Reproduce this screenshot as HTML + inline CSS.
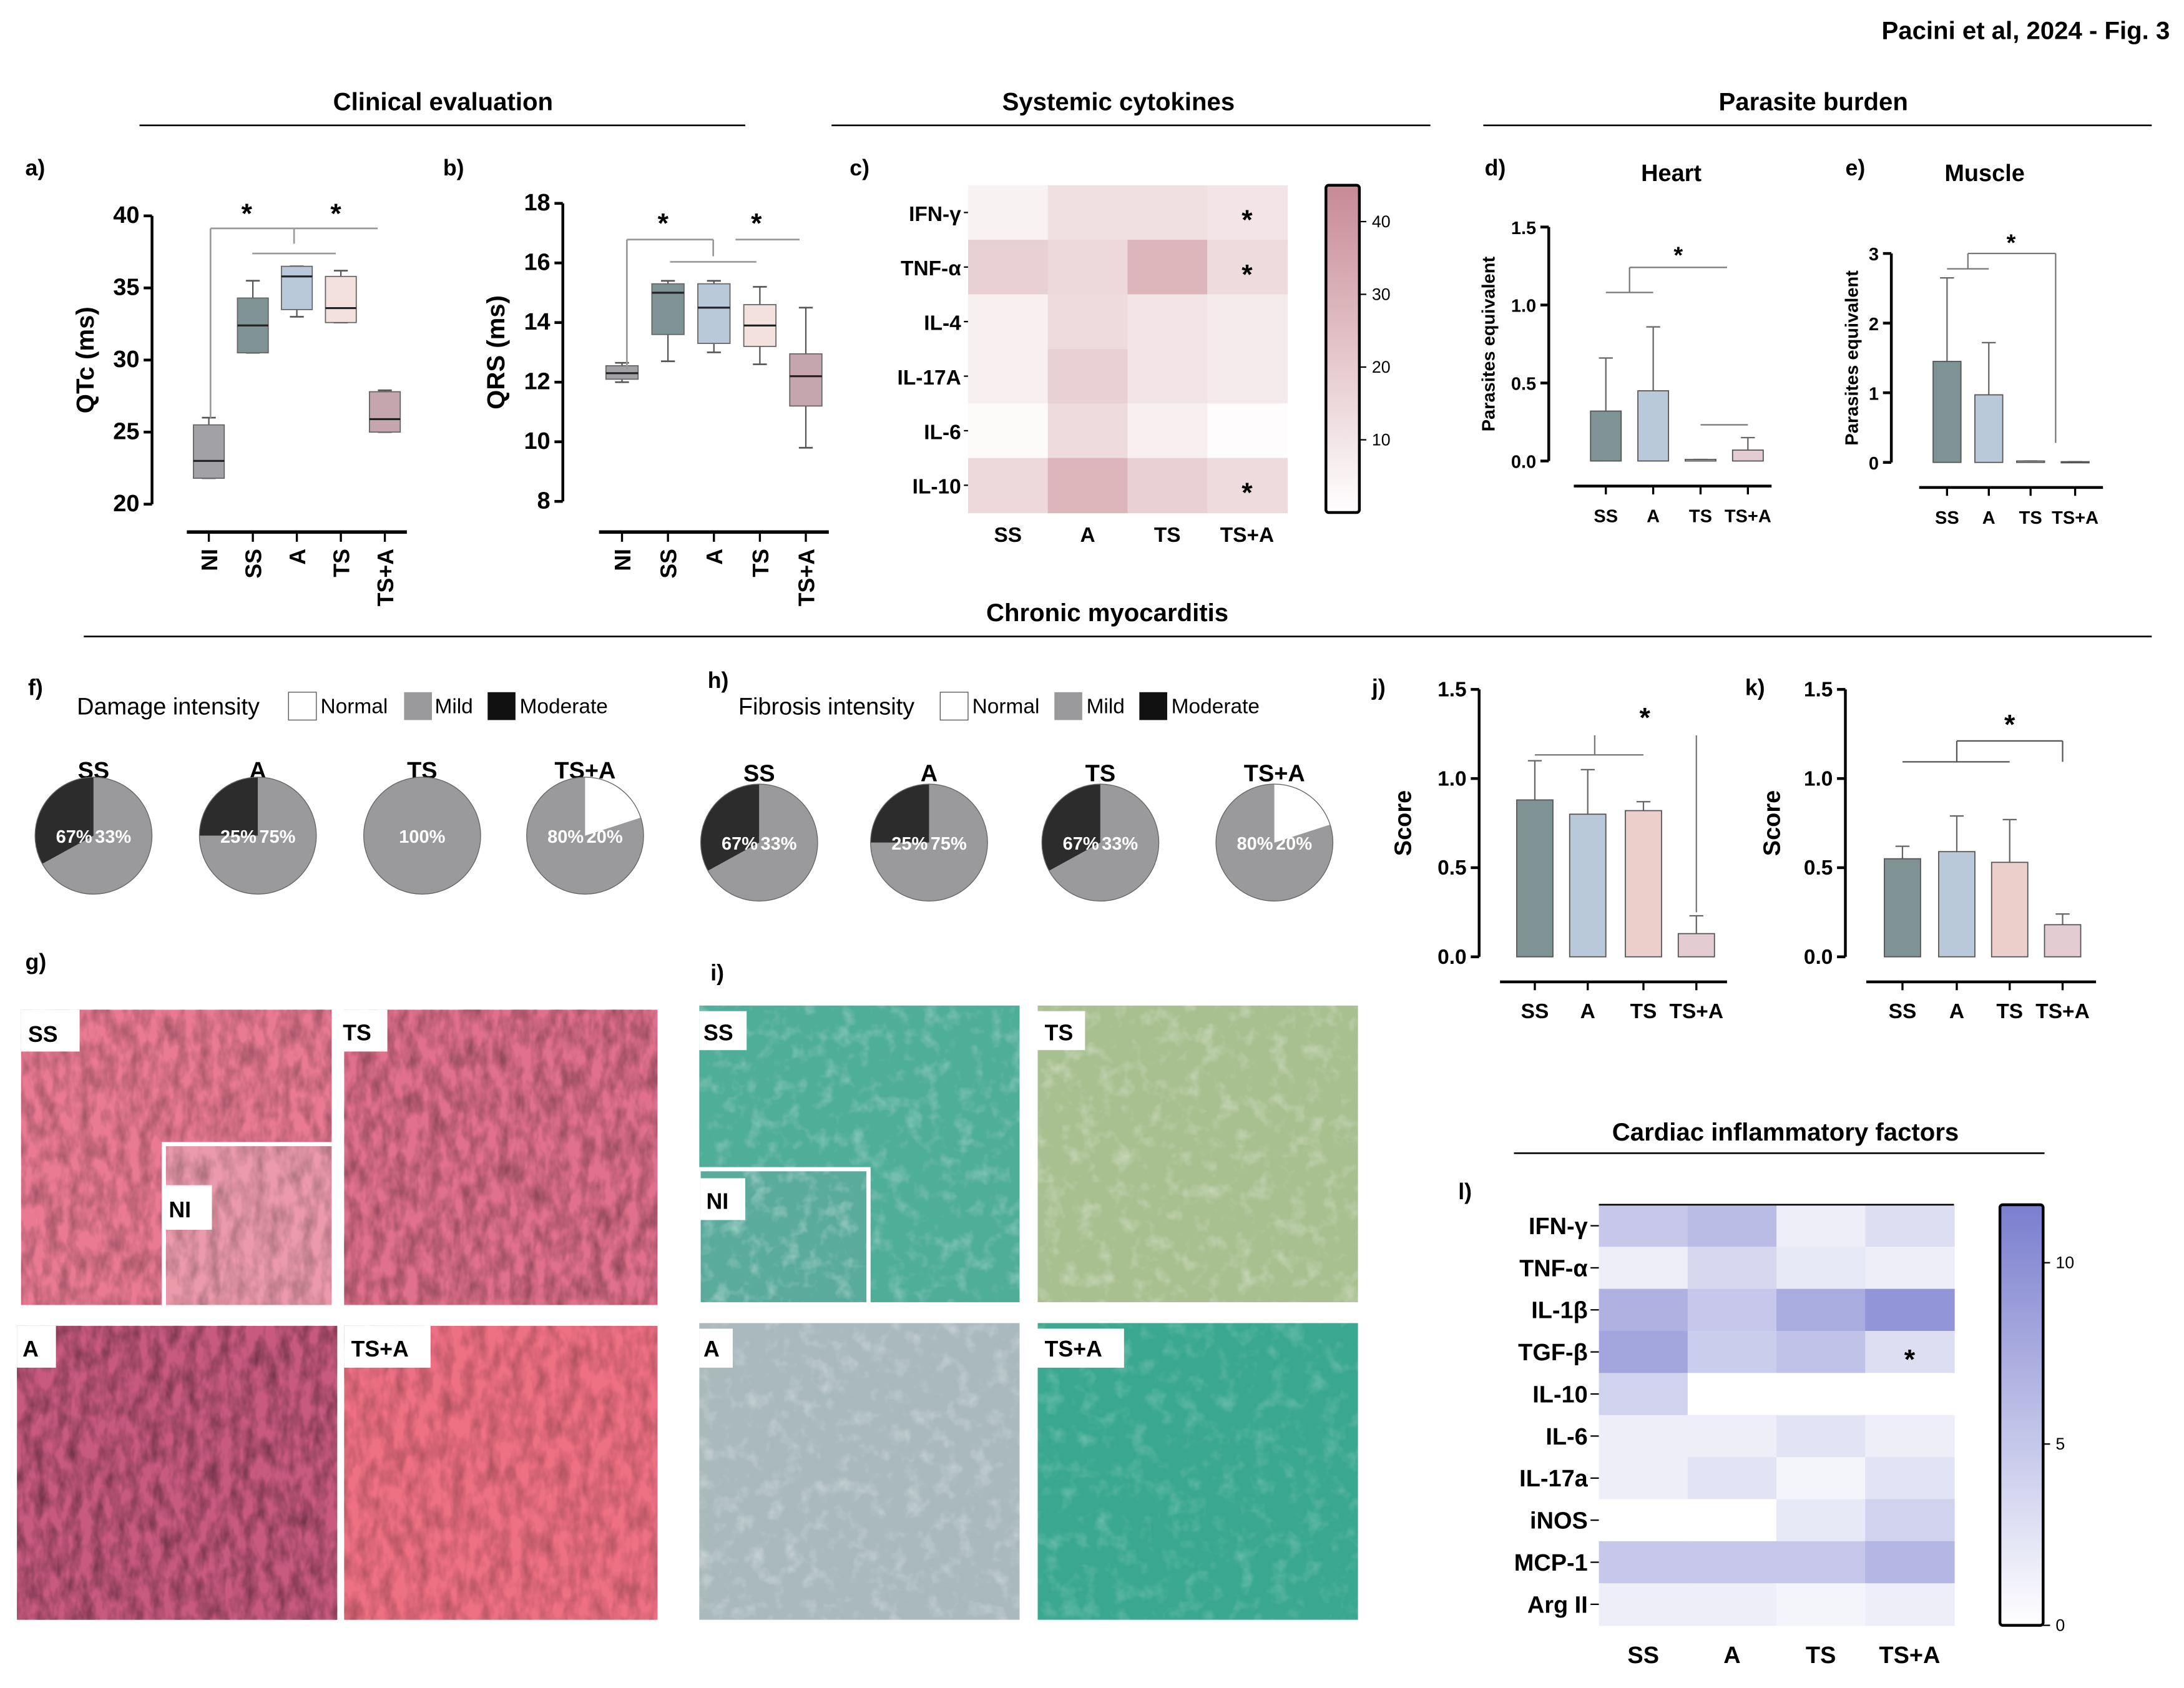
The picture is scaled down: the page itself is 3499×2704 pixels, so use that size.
<!DOCTYPE html>
<html><head><meta charset="utf-8">
<style>
html,body{margin:0;padding:0;background:#fff;}
svg{display:block;}
text{font-family:"Liberation Sans",Arial,sans-serif;}
</style></head>
<body>
<svg id="fig" width="3499" height="2704" viewBox="0 0 1568 1212" xmlns="http://www.w3.org/2000/svg">
<defs>
<filter id="tex" x="0" y="0" width="100%" height="100%">
<feTurbulence type="fractalNoise" baseFrequency="0.12 0.06" numOctaves="3" seed="4"/>
<feColorMatrix type="matrix" values="0 0 0 0 0  0 0 0 0 0  0 0 0 0 0  0 0 0 -1.8 1.2"/>
</filter>
<filter id="tex2" x="0" y="0" width="100%" height="100%">
<feTurbulence type="fractalNoise" baseFrequency="0.08" numOctaves="3" seed="9"/>
<feColorMatrix type="matrix" values="0 0 0 0 1  0 0 0 0 1  0 0 0 0 1  0 0 0 -2 1.0"/>
</filter>
</defs>
<rect width="1568" height="1212" fill="#fff"/>
<text x="1558" y="28" text-anchor="end" font-size="18" font-weight="bold">Pacini et al, 2024 - Fig. 3</text>

<g font-size="18" font-weight="bold" text-anchor="middle">
<text x="318" y="79">Clinical evaluation</text>
<line x1="100" y1="90" x2="535" y2="90" stroke="#000" stroke-width="1.2"/>
<text x="803" y="79">Systemic cytokines</text>
<line x1="597" y1="90" x2="1027" y2="90" stroke="#000" stroke-width="1.2"/>
<text x="1302" y="79">Parasite burden</text>
<line x1="1065" y1="90" x2="1545" y2="90" stroke="#000" stroke-width="1.2"/>
<text x="795" y="446">Chronic myocarditis</text>
<line x1="60" y1="457" x2="1545" y2="457" stroke="#000" stroke-width="1.2"/>
<text x="1282" y="819">Cardiac inflammatory factors</text>
<line x1="1087" y1="828" x2="1468" y2="828" stroke="#000" stroke-width="1.2"/>
</g>

<g font-size="16" font-weight="bold">
<text x="18" y="126">a)</text><text x="318" y="126">b)</text><text x="610" y="126">c)</text>
<text x="1066" y="126">d)</text><text x="1325" y="126">e)</text>
<text x="20" y="499">f)</text><text x="508" y="494">h)</text>
<text x="985" y="499">j)</text><text x="1253" y="499">k)</text>
<text x="18" y="696">g)</text><text x="510" y="704">i)</text>
<text x="1047" y="861">l)</text>
</g>

<g>
<rect x="15" y="725" width="223" height="212" fill="#e97a92"/><rect x="15" y="725" width="223" height="212" filter="url(#tex)" opacity="0.3"/>
<rect x="247" y="725" width="225" height="212" fill="#e0708c"/><rect x="247" y="725" width="225" height="212" filter="url(#tex)" opacity="0.35"/>
<rect x="116" y="820" width="124" height="119" fill="#fff"/>
<rect x="119" y="823" width="119" height="114" fill="#eb9aac"/><rect x="119" y="823" width="119" height="114" filter="url(#tex)" opacity="0.25"/>
<rect x="12" y="952" width="230" height="211" fill="#c85a80"/><rect x="12" y="952" width="230" height="211" filter="url(#tex)" opacity="0.4"/>
<rect x="247" y="952" width="225" height="211" fill="#ee7083"/><rect x="247" y="952" width="225" height="211" filter="url(#tex)" opacity="0.25"/>
<rect x="15" y="725" width="42" height="30" fill="#fff"/><text x="20" y="748" font-size="16" font-weight="bold">SS</text>
<rect x="240" y="725" width="38" height="30" fill="#fff"/><text x="246" y="747" font-size="16" font-weight="bold">TS</text>
<rect x="116" y="851" width="36" height="32" fill="#fff"/><text x="121" y="874" font-size="16" font-weight="bold">NI</text>
<rect x="12" y="952" width="28" height="30" fill="#fff"/><text x="16" y="974" font-size="16" font-weight="bold">A</text>
<rect x="247" y="952" width="62" height="30" fill="#fff"/><text x="252" y="974" font-size="16" font-weight="bold">TS+A</text>
</g>
<g>
<rect x="502" y="722" width="230" height="213" fill="#4fae98"/><rect x="502" y="722" width="230" height="213" filter="url(#tex2)" opacity="0.35"/>
<rect x="745" y="722" width="230" height="213" fill="#a8c090"/><rect x="745" y="722" width="230" height="213" filter="url(#tex2)" opacity="0.4"/>
<rect x="500" y="838" width="125" height="99" fill="#fff"/>
<rect x="503" y="841" width="119" height="94" fill="#5aab9c"/><rect x="503" y="841" width="119" height="94" filter="url(#tex2)" opacity="0.45"/>
<rect x="502" y="950" width="230" height="213" fill="#a9b9bc"/><rect x="502" y="950" width="230" height="213" filter="url(#tex2)" opacity="0.4"/>
<rect x="745" y="950" width="230" height="213" fill="#3aa890"/><rect x="745" y="950" width="230" height="213" filter="url(#tex2)" opacity="0.25"/>
<rect x="502" y="726" width="34" height="28" fill="#fff"/><text x="505" y="747" font-size="16" font-weight="bold">SS</text>
<rect x="745" y="726" width="34" height="28" fill="#fff"/><text x="750" y="747" font-size="16" font-weight="bold">TS</text>
<rect x="503" y="846" width="32" height="30" fill="#fff"/><text x="507" y="868" font-size="16" font-weight="bold">NI</text>
<rect x="502" y="954" width="24" height="28" fill="#fff"/><text x="505" y="974" font-size="16" font-weight="bold">A</text>
<rect x="745" y="954" width="62" height="28" fill="#fff"/><text x="750" y="974" font-size="16" font-weight="bold">TS+A</text>
</g>

<g font-size="15">
<text x="55" y="513" font-size="17">Damage intensity</text>
<rect x="207" y="497" width="20" height="20" fill="#fff" stroke="#555" stroke-width="0.6"/><text x="230" y="512">Normal</text>
<rect x="290" y="497" width="20" height="20" fill="#9a9a9c"/><text x="312" y="512">Mild</text>
<rect x="350" y="497" width="20" height="20" fill="#111"/><text x="373" y="512">Moderate</text>
</g>
<g font-size="15">
<text x="530" y="513" font-size="17">Fibrosis intensity</text>
<rect x="675" y="497" width="20" height="20" fill="#fff" stroke="#555" stroke-width="0.6"/><text x="698" y="512">Normal</text>
<rect x="757" y="497" width="20" height="20" fill="#9a9a9c"/><text x="780" y="512">Mild</text>
<rect x="818" y="497" width="20" height="20" fill="#111"/><text x="841" y="512">Moderate</text>
</g>
</svg>

<script>
const NS='http://www.w3.org/2000/svg';
const svg=document.getElementById('fig');
function mk(tag,a,parent){const e=document.createElementNS(NS,tag);for(const k in a)e.setAttribute(k,a[k]);(parent||svg).appendChild(e);return e;}
function txt(x,y,s,a,parent){const e=mk('text',Object.assign({x:x,y:y},a||{}),parent);e.textContent=s;return e;}
function lin(d0,d1,r0,r1){return v=>r0+(v-d0)*(r1-r0)/(d1-d0);}

const boxCats=['NI','SS','A','TS','TS+A'];
const boxColors=['#a2a1a6','#7f9294','#b9c9da','#f2e1dc','#c6a6ae'];
const qtcMin=[21.8,30.5,33.0,32.6,25.0];
const qtcQ1=[21.8,30.5,33.5,32.6,25.0];
const qtcMed=[23.0,32.4,35.8,33.6,25.9];
const qtcQ3=[25.5,34.3,36.5,35.8,27.8];
const qtcMax=[26.0,35.5,36.5,36.2,27.9];
const qtcTicks=[20,25,30,35,40];
const qrsMin=[12.0,12.7,13.0,12.6,9.8];
const qrsQ1=[12.1,13.6,13.3,13.2,11.2];
const qrsMed=[12.3,15.0,14.5,13.9,12.2];
const qrsQ3=[12.55,15.3,15.3,14.6,12.95];
const qrsMax=[12.65,15.4,15.4,15.2,14.5];
const qrsTicks=[8,10,12,14,16,18];

const cytoRows=['IFN-\u03b3','TNF-\u03b1','IL-4','IL-17A','IL-6','IL-10'];
const groupCats=['SS','A','TS','TS+A'];
const cytoVals=[[5,12,12,10],[18,15,28,14],[6,14,10,8],[6,18,10,8],[2,14,6,1],[15,28,18,14]];
const cytoStars=[[0,3],[1,3],[5,3]];
const cytoTicks=[10,20,30,40];

const heartMean=[0.32,0.45,0.01,0.07];
const heartErr=[0.66,0.86,0.01,0.15];
const heartTicks=[0,0.5,1.0,1.5];
const muscleMean=[1.45,0.97,0.02,0.01];
const muscleErr=[2.65,1.72,0.02,0.01];
const muscleTicks=[0,1,2,3];

const damagePies=[[0,67,33],[0,75,25],[0,100,0],[20,80,0]];
const fibrosisPies=[[0,67,33],[0,75,25],[0,67,33],[20,80,0]];
const damageLabels=[['67%','33%'],['25%','75%'],['100%'],['80%','20%']];
const fibrosisLabels=[['67%','33%'],['25%','75%'],['67%','33%'],['80%','20%']];

const scoreJMean=[0.88,0.80,0.82,0.13];
const scoreJErr=[1.10,1.05,0.87,0.23];
const scoreKMean=[0.55,0.59,0.53,0.18];
const scoreKErr=[0.62,0.79,0.77,0.24];
const scoreTicks=[0,0.5,1.0,1.5];

const cardRows=['IFN-\u03b3','TNF-\u03b1','IL-1\u03b2','TGF-\u03b2','IL-10','IL-6','IL-17a','iNOS','MCP-1','Arg II'];
const cardVals=[[5,6,1.5,3],[1.5,3.5,2,1.5],[7,5,7.5,9.5],[8,4.5,5.5,3],[4,0,0,0],[1.5,1.5,2.5,1.5],[1.5,2.5,1,2.5],[0,0,2,4],[5,5,5,6.5],[1.5,1.5,1,1.5]];
const cardTicks=[0,5,10];
const barColors=['#7f9294','#b9c9da','#eccfca','#e3cdd3'];

function yAxis(g,x,y0,y1,ticks,sc,fmt,fs){
  mk('line',{x1:x,y1:y0,x2:x,y2:y1,stroke:'#000','stroke-width':2},g);
  ticks.forEach(t=>{const y=sc(t);
    mk('line',{x1:x-6,y1:y,x2:x,y2:y,stroke:'#000','stroke-width':2},g);
    const tl=txt(x-9,y+5,fmt(t),{'text-anchor':'end','font-size':fs||16,'font-weight':'bold'},g);
    
    
  });
}
function boxPanel(name,axisX,x0,x1,yTop,yBot,ticks,mn,q1,md,q3,mx,title,titleX){
  const g=mk('g',{});
  
  
  const sc=lin(ticks[0],ticks[ticks.length-1],yBot,yTop);
  yAxis(g,axisX,yTop,yBot,ticks,sc,t=>String(t),17);
  mk('line',{x1:x0,y1:382,x2:x1,y2:382,stroke:'#000','stroke-width':2.5},g);
  const step=(x1-x0)/boxCats.length;
  boxCats.forEach((c,i)=>{
    const cx=x0+step*(i+0.5);
    mk('line',{x1:cx,y1:382,x2:cx,y2:389,stroke:'#000','stroke-width':1.5},g);
    const lb=txt(0,0,c,{transform:`translate(${cx+6},394) rotate(-90)`,'text-anchor':'end','font-size':16,'font-weight':'bold'},g);
    
    
    const w=step*0.7;
    const wh=mk('line',{x1:cx,y1:sc(mn[i]),x2:cx,y2:sc(mx[i]),stroke:'#555','stroke-width':1},g);
    
    
    mk('line',{x1:cx-5,y1:sc(mx[i]),x2:cx+5,y2:sc(mx[i]),stroke:'#555','stroke-width':1.2},g);
    mk('line',{x1:cx-5,y1:sc(mn[i]),x2:cx+5,y2:sc(mn[i]),stroke:'#555','stroke-width':1.2},g);
    const b=mk('rect',{x:cx-w/2,y:sc(q3[i]),width:w,height:Math.max(1,sc(q1[i])-sc(q3[i])),fill:boxColors[i],stroke:'#666','stroke-width':0.8},g);
    
    
    mk('line',{x1:cx-w/2,y1:sc(md[i]),x2:cx+w/2,y2:sc(md[i]),stroke:'#222','stroke-width':1.4},g);
  });
  const yt=txt(0,0,title,{transform:`translate(${titleX},${(yTop+yBot)/2}) rotate(-90)`,'text-anchor':'middle','font-size':18,'font-weight':'bold'},g);
  
  
  return {g,sc,step};
}

const pa=boxPanel('qtc-boxplot',109,134,292,155,362,qtcTicks,qtcMin,qtcQ1,qtcMed,qtcQ3,qtcMax,'QTc (ms)',67);
[[151,164,211,164],[151,164,151,300],[211,164,271,164],[211,164,211,175],[181,182,241,182]].forEach(l=>mk('line',{x1:l[0],y1:l[1],x2:l[2],y2:l[3],stroke:'#999','stroke-width':1.2},pa.g));
txt(177,160,'*',{'font-size':20,'font-weight':'bold','text-anchor':'middle'},pa.g);
txt(241,160,'*',{'font-size':20,'font-weight':'bold','text-anchor':'middle'},pa.g);
const pb=boxPanel('qrs-boxplot',404,430,595,146,360,qrsTicks,qrsMin,qrsQ1,qrsMed,qrsQ3,qrsMax,'QRS (ms)',362);
[[450,172,512,172],[450,172,450,265],[512,172,512,184],[481,188,543,188],[528,172,574,172]].forEach(l=>mk('line',{x1:l[0],y1:l[1],x2:l[2],y2:l[3],stroke:'#999','stroke-width':1.2},pb.g));
txt(476,167,'*',{'font-size':20,'font-weight':'bold','text-anchor':'middle'},pb.g);
txt(543,167,'*',{'font-size':20,'font-weight':'bold','text-anchor':'middle'},pb.g);

function heatmap(name,x0,y0,w,h,rows,vals,maxV,c1,lblX,fs,colY,stars,cb,cbTicks){
  const g=mk('g',{});
  
  
  const cw=w/groupCats.length, rh=h/rows.length;
  const col=v=>{const t=Math.max(0,Math.min(1,v/maxV));return `rgb(${Math.round(255+(c1[0]-255)*t)},${Math.round(255+(c1[1]-255)*t)},${Math.round(255+(c1[2]-255)*t)})`;};
  rows.forEach((r,i)=>{
    const rl=txt(lblX,y0+rh*(i+0.5)+6,r,{'text-anchor':'end','font-size':fs,'font-weight':'bold'},g);
    
    
    mk('line',{x1:lblX+2,y1:y0+rh*(i+0.5),x2:x0,y2:y0+rh*(i+0.5),stroke:'#000','stroke-width':1},g);
    groupCats.forEach((c,j)=>{
      const cell=mk('rect',{x:x0+cw*j,y:y0+rh*i,width:cw+0.5,height:rh+0.5,fill:col(vals[i][j])},g);
      
      
    });
  });
  groupCats.forEach((c,j)=>{
    const cl=txt(x0+cw*(j+0.5),colY,c,{'text-anchor':'middle','font-size':fs,'font-weight':'bold'},g);
    
    
  });
  stars.forEach(s=>txt(x0+cw*(s[1]+0.5),y0+rh*(s[0]+0.5)+12,'*',{'text-anchor':'middle','font-size':20,'font-weight':'bold'},g));
  const gid='grad'+name;
  const lg=mk('linearGradient',{id:gid,x1:0,y1:1,x2:0,y2:0},svg.querySelector('defs'));
  mk('stop',{offset:0,'stop-color':'#fff'},lg);
  mk('stop',{offset:1,'stop-color':col(maxV)},lg);
  const bar=mk('rect',{x:cb[0],y:y0,width:cb[1],height:h,fill:`url(#${gid})`,stroke:'#000','stroke-width':2,rx:2},g);
  
  
  const sc=lin(0,maxV,y0+h,y0);
  cbTicks.forEach(t=>{
    mk('line',{x1:cb[0]+cb[1],y1:sc(t),x2:cb[0]+cb[1]+5,y2:sc(t),stroke:'#000','stroke-width':1},g);
    txt(cb[0]+cb[1]+9,sc(t)+4,String(t),{'font-size':12},g);
  });
  return g;
}
heatmap('systemic-cytokines-heatmap',695,133,229,235,cytoRows,cytoVals,45,[200,138,148],690,15,389,cytoStars,[952,24],cytoTicks);
const hl=heatmap('cardiac-factors-heatmap',1148,865,255,302,cardRows,cardVals,11.6,[122,126,206],1140,17,1194,[[3,3]],[1436,31],cardTicks);
mk('line',{x1:1148,y1:865,x2:1403,y2:865,stroke:'#000','stroke-width':1.2},hl);

function barPanel(name,axisX,yTop,yBot,ticks,x0,x1,xs,bw,mean,err,fmt,title,titleX,titleFs){
  const g=mk('g',{});
  
  
  const sc=lin(ticks[0],ticks[ticks.length-1],yBot,yTop);
  yAxis(g,axisX,yTop,yBot,ticks,sc,fmt,titleFs>14?15:13);
  const xAxisY=yBot+18;
  mk('line',{x1:x0,y1:xAxisY,x2:x1,y2:xAxisY,stroke:'#000','stroke-width':2},g);
  groupCats.forEach((c,i)=>{
    const cx=xs[i];
    mk('line',{x1:cx,y1:xAxisY,x2:cx,y2:xAxisY+6,stroke:'#000','stroke-width':1.5},g);
    const lb=txt(cx,xAxisY+26,c,{'text-anchor':'middle','font-size':titleFs>14?15:13,'font-weight':'bold'},g);
    
    
    mk('line',{x1:cx,y1:sc(mean[i]),x2:cx,y2:sc(err[i]),stroke:'#666','stroke-width':1},g);
    mk('line',{x1:cx-5,y1:sc(err[i]),x2:cx+5,y2:sc(err[i]),stroke:'#666','stroke-width':1},g);
    const b=mk('rect',{x:cx-bw/2,y:sc(mean[i]),width:bw,height:Math.max(0.8,sc(0)-sc(mean[i])),fill:barColors[i],stroke:'#555','stroke-width':0.8},g);
    
    
  });
  const yt=txt(0,0,title,{transform:`translate(${titleX},${(yTop+yBot)/2}) rotate(-90)`,'text-anchor':'middle','font-size':titleFs,'font-weight':'bold'},g);
  
  
  return g;
}
const f1=v=>v.toFixed(1);
const gd=barPanel('heart-parasite-bars',1112,163,331,heartTicks,1130,1272,[1153,1187,1221,1255],22,heartMean,heartErr,f1,'Parasites equivalent',1073,13);
txt(1200,130,'Heart',{'text-anchor':'middle','font-size':17,'font-weight':'bold'},gd);
[[1153,210,1187,210],[1170,210,1170,192],[1170,192,1240,192],[1221,305,1255,305]].forEach(l=>mk('line',{x1:l[0],y1:l[1],x2:l[2],y2:l[3],stroke:'#777','stroke-width':1},gd));
txt(1205,189,'*',{'text-anchor':'middle','font-size':17,'font-weight':'bold'},gd);
const ge=barPanel('muscle-parasite-bars',1358,182,332,muscleTicks,1378,1510,[1398,1428,1458,1490],20,muscleMean,muscleErr,v=>String(v),'Parasites equivalent',1334,13);
txt(1425,130,'Muscle',{'text-anchor':'middle','font-size':17,'font-weight':'bold'},ge);
[[1398,193,1428,193],[1413,193,1413,182],[1413,182,1476,182],[1476,182,1476,318]].forEach(l=>mk('line',{x1:l[0],y1:l[1],x2:l[2],y2:l[3],stroke:'#777','stroke-width':1},ge));
txt(1444,180,'*',{'text-anchor':'middle','font-size':17,'font-weight':'bold'},ge);
const gj=barPanel('damage-score-bars',1062,495,687,scoreTicks,1077,1240,[1102,1140,1180,1218],26,scoreJMean,scoreJErr,f1,'Score',1013,17);
[[1102,542,1180,542],[1145,542,1145,528],[1218,528,1218,655]].forEach(l=>mk('line',{x1:l[0],y1:l[1],x2:l[2],y2:l[3],stroke:'#777','stroke-width':1},gj));
txt(1181,522,'*',{'text-anchor':'middle','font-size':20,'font-weight':'bold'},gj);
const gk=barPanel('fibrosis-score-bars',1325,495,687,scoreTicks,1340,1505,[1366,1405,1443,1481],26,scoreKMean,scoreKErr,f1,'Score',1278,17);
[[1366,547,1443,547],[1405,547,1405,532],[1405,532,1481,532],[1481,532,1481,547]].forEach(l=>mk('line',{x1:l[0],y1:l[1],x2:l[2],y2:l[3],stroke:'#555','stroke-width':1},gk));
txt(1443,527,'*',{'text-anchor':'middle','font-size':20,'font-weight':'bold'},gk);

function pie(g,cx,cy,r,parts,labels){
  const pt=a=>[cx+r*Math.sin(a),cy-r*Math.cos(a)];
  const wedge=(a0,a1,fill,name)=>{
    if(a1-a0>=2*Math.PI-1e-6){const c=mk('circle',{cx,cy,r,fill},g);return;}
    if(a1-a0<=0)return;
    const p0=pt(a0),p1=pt(a1);
    const p=mk('path',{d:`M${cx},${cy}L${p0[0]},${p0[1]}A${r},${r} 0 ${a1-a0>Math.PI?1:0} 1 ${p1[0]},${p1[1]}Z`,fill},g);
    
    
  };
  const T=2*Math.PI;
  const aN=parts[0]/100*T, aMod=parts[2]/100*T;
  wedge(aN,T-aMod,'#9a9a9c','pie-slice-mild');
  wedge(0,aN,'#fff','pie-slice-normal');
  wedge(T-aMod,T,'#2c2c2c','pie-slice-moderate');
  mk('circle',{cx,cy,r,fill:'none',stroke:'#666','stroke-width':0.6},g);
  if(labels.length===1) txt(cx,cy+5,labels[0],{'text-anchor':'middle','font-size':13,'font-weight':'bold',fill:'#fff'},g);
  else {txt(cx-1,cy+5,labels[0],{'text-anchor':'end','font-size':13,'font-weight':'bold',fill:'#fff'},g);
        txt(cx+1,cy+5,labels[1],{'font-size':13,'font-weight':'bold',fill:'#fff'},g);}
}
const pieX1=[67,185,303,420], pieX2=[545,667,790,915];
const gf=mk('g',{});


const gh=mk('g',{});


groupCats.forEach((c,i)=>{
  txt(pieX1[i],559,c,{'text-anchor':'middle','font-size':17,'font-weight':'bold'},gf);
  pie(gf,pieX1[i],600,42,damagePies[i],damageLabels[i]);
  txt(pieX2[i],561,c,{'text-anchor':'middle','font-size':17,'font-weight':'bold'},gh);
  pie(gh,pieX2[i],605,42,fibrosisPies[i],fibrosisLabels[i]);
});
</script>
</body></html>
